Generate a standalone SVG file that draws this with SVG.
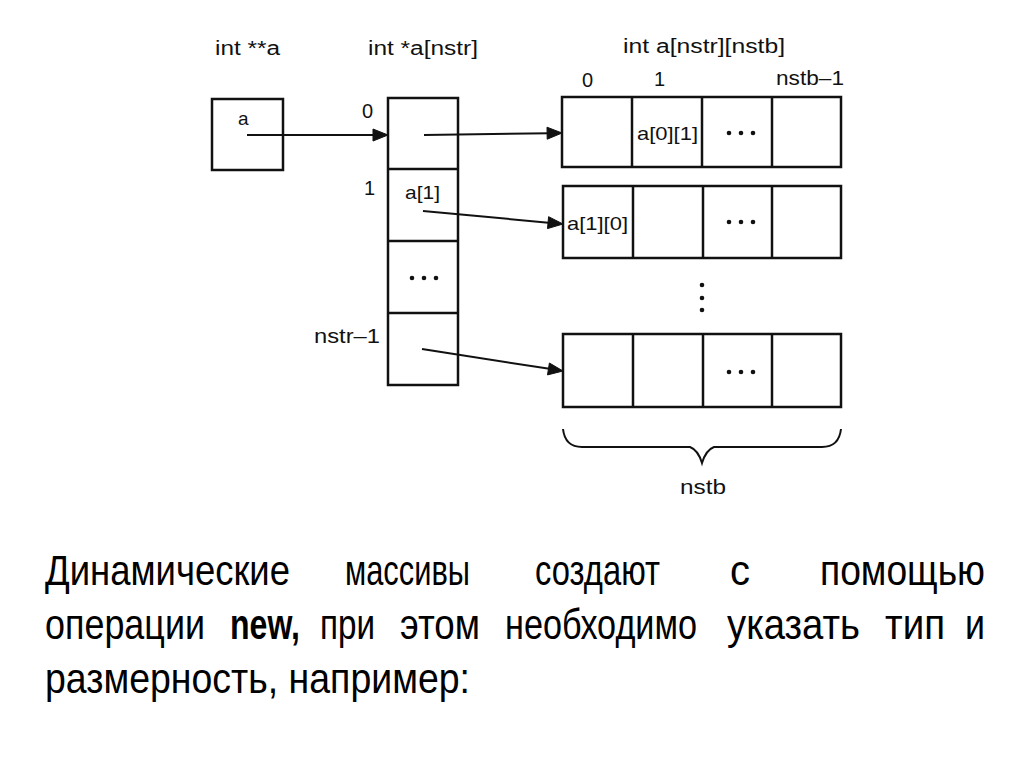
<svg xmlns="http://www.w3.org/2000/svg" width="1024" height="767" viewBox="0 0 1024 767">
<defs>
<style>
.b{fill:none;stroke:#111;stroke-width:2.5}
.c{stroke:#111;stroke-width:2;fill:none}
.h{fill:#111;stroke:#111;stroke-width:1}
.t{font-family:"Liberation Sans",Arial,sans-serif;font-size:20px;fill:#111}
.s{font-family:"Liberation Sans",Arial,sans-serif;font-size:19px;fill:#111}
.p{font-family:"Liberation Sans",Arial,sans-serif;font-size:42px;fill:#000}
.d{fill:#111}
</style>
</defs>
<rect width="1024" height="767" fill="#fff"/>

<g id="headers">
<text class="t" x="215" y="55" textLength="65" lengthAdjust="spacingAndGlyphs">int **a</text>
<text class="t" x="368" y="55" textLength="110" lengthAdjust="spacingAndGlyphs">int *a[nstr]</text>
<text class="t" x="623" y="53" textLength="162" lengthAdjust="spacingAndGlyphs">int a[nstr][nstb]</text>
<text class="t" x="582" y="87">0</text>
<text class="t" x="654" y="86">1</text>
<text class="t" x="776" y="85" textLength="68" lengthAdjust="spacingAndGlyphs">nstb–1</text>
</g>

<g id="ptr">
<rect class="b" x="212" y="99" width="71" height="71"/>
<text class="s" x="238" y="125">a</text>
</g>

<g id="column">
<rect class="b" x="388" y="98" width="70" height="287"/>
<line class="b" x1="388" y1="169" x2="458" y2="169"/>
<line class="b" x1="388" y1="241" x2="458" y2="241"/>
<line class="b" x1="388" y1="313" x2="458" y2="313"/>
<text class="t" x="362" y="118">0</text>
<text class="t" x="364" y="195">1</text>
<text class="t" x="314" y="343" textLength="66" lengthAdjust="spacingAndGlyphs">nstr–1</text>
<text class="s" x="405" y="199" textLength="35" lengthAdjust="spacingAndGlyphs">a[1]</text>
<circle class="d" cx="412" cy="278" r="2.3"/><circle class="d" cx="424" cy="278" r="2.3"/><circle class="d" cx="436" cy="278" r="2.3"/>
</g>

<g id="row0">
<rect class="b" x="562" y="97" width="279" height="70"/>
<line class="b" x1="632" y1="97" x2="632" y2="167"/>
<line class="b" x1="702" y1="97" x2="702" y2="167"/>
<line class="b" x1="772" y1="97" x2="772" y2="167"/>
<text class="s" x="637" y="140" textLength="61" lengthAdjust="spacingAndGlyphs">a[0][1]</text>
<circle class="d" cx="729" cy="133" r="2.3"/><circle class="d" cx="741" cy="133" r="2.3"/><circle class="d" cx="753" cy="133" r="2.3"/>
</g>

<g id="row1">
<rect class="b" x="563" y="186" width="278" height="72"/>
<line class="b" x1="633" y1="186" x2="633" y2="258"/>
<line class="b" x1="703" y1="186" x2="703" y2="258"/>
<line class="b" x1="772" y1="186" x2="772" y2="258"/>
<text class="s" x="567" y="230" textLength="61" lengthAdjust="spacingAndGlyphs">a[1][0]</text>
<circle class="d" cx="729" cy="222" r="2.3"/><circle class="d" cx="741" cy="222" r="2.3"/><circle class="d" cx="753" cy="222" r="2.3"/>
</g>

<g id="vdots">
<circle class="d" cx="702" cy="285" r="2.3"/><circle class="d" cx="702" cy="298" r="2.3"/><circle class="d" cx="702" cy="310" r="2.3"/>
</g>

<g id="row2">
<rect class="b" x="563" y="334" width="278" height="73"/>
<line class="b" x1="633" y1="334" x2="633" y2="407"/>
<line class="b" x1="703" y1="334" x2="703" y2="407"/>
<line class="b" x1="772" y1="334" x2="772" y2="407"/>
<circle class="d" cx="729" cy="372" r="2.3"/><circle class="d" cx="741" cy="372" r="2.3"/><circle class="d" cx="753" cy="372" r="2.3"/>
</g>

<g id="brace">
<path class="c" d="M563,429 Q565,447 582,447 L690,447 Q698,450 702,463 Q706,450 714,447 L822,447 Q839,447 841,429"/>
<text class="t" x="680" y="494" textLength="46" lengthAdjust="spacingAndGlyphs">nstb</text>
</g>

<g id="connectors">
<line class="c" x1="247" y1="135" x2="376" y2="135"/>
<path class="h" d="M388,135 L373,129 L373,141 Z"/>
<line class="c" x1="424" y1="135" x2="550" y2="133.2"/>
<path class="h" d="M562,133 L547,127.2 L547.2,139.2 Z"/>
<line class="c" x1="423" y1="211" x2="551" y2="222.9"/>
<path class="h" d="M563,224 L548.6,216.7 L547.5,228.6 Z"/>
<line class="c" x1="422" y1="349" x2="551" y2="369.1"/>
<path class="h" d="M563,371 L549.4,363 L547.5,374.9 Z"/>
</g>

<g id="paragraph">
<text class="p" x="45" y="585" textLength="245" lengthAdjust="spacingAndGlyphs">Динамические</text>
<text class="p" x="345" y="585" textLength="125" lengthAdjust="spacingAndGlyphs">массивы</text>
<text class="p" x="535" y="585" textLength="125" lengthAdjust="spacingAndGlyphs">создают</text>
<text class="p" x="730" y="585" textLength="20" lengthAdjust="spacingAndGlyphs">с</text>
<text class="p" x="820" y="585" textLength="165" lengthAdjust="spacingAndGlyphs">помощью</text>
<text class="p" x="45" y="639" textLength="160" lengthAdjust="spacingAndGlyphs">операции</text>
<text class="p" x="230" y="639" textLength="70" lengthAdjust="spacingAndGlyphs" font-weight="bold">new,</text>
<text class="p" x="320" y="639" textLength="55" lengthAdjust="spacingAndGlyphs">при</text>
<text class="p" x="400" y="639" textLength="80" lengthAdjust="spacingAndGlyphs">этом</text>
<text class="p" x="505" y="639" textLength="192" lengthAdjust="spacingAndGlyphs">необходимо</text>
<text class="p" x="727" y="639" textLength="133" lengthAdjust="spacingAndGlyphs">указать</text>
<text class="p" x="885" y="639" textLength="60" lengthAdjust="spacingAndGlyphs">тип</text>
<text class="p" x="965" y="639" textLength="20" lengthAdjust="spacingAndGlyphs">и</text>
<text class="p" x="45" y="693" textLength="425" lengthAdjust="spacingAndGlyphs">размерность, например:</text>
</g>
</svg>
